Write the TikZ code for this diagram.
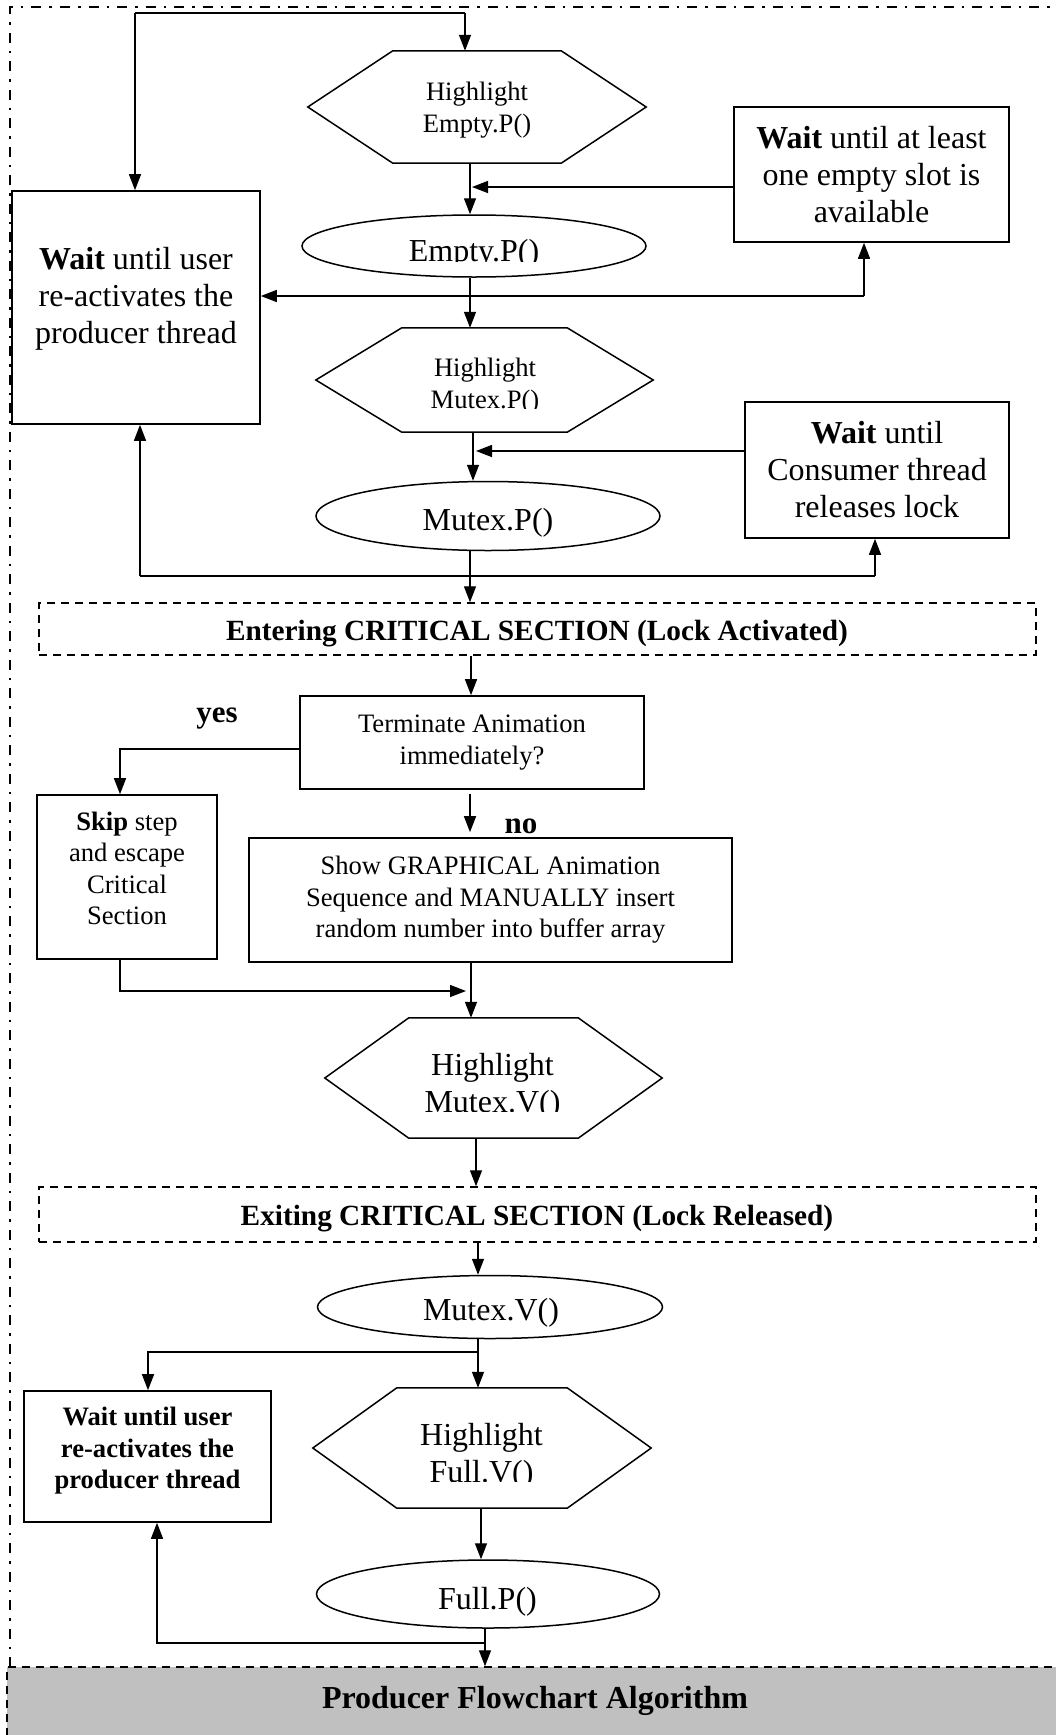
\documentclass[tikz,border=0pt]{standalone}
\usepackage{fontspec}
\setmainfont{Liberation Serif}
\usetikzlibrary{arrows.meta,shapes.geometric}

\definecolor{bannergray}{HTML}{C0C0C0}
\newcommand\txtsmall{\fontsize{26.6}{31.5}\selectfont}
\newcommand\txtmid{\fontsize{29.3}{34}\selectfont}
\newcommand\txtlarge{\fontsize{32}{37}\selectfont}
% flat-topped hexagon drawn around a rectangular node
\newcommand\hexpath[2]{\draw[shapeline] (#1.west) -- ([xshift=#2]#1.north west) -- ([xshift=-#2]#1.north east) -- (#1.east) -- ([xshift=-#2]#1.south east) -- ([xshift=#2]#1.south west) -- cycle;}

\begin{document}
\begin{tikzpicture}[x=1pt,y=-1pt,
  shapeline/.style={line width=1.5pt, line join=miter},
  boxnode/.style={draw, line width=1.6pt, inner sep=0pt, align=center},
  dashbox/.style={draw, line width=1.5pt, dash pattern=on 8pt off 6pt, inner sep=0pt, align=center},
  hexnode/.style={inner sep=0pt},
  ovalnode/.style={draw, ellipse, line width=1.5pt, inner sep=0pt},
  label/.style={inner sep=0pt, align=center},
  conn/.style={line width=1.4pt},
  arr/.style={line width=1.4pt, -{Triangle[length=16pt,width=12pt]}},
]
\useasboundingbox (0,0) rectangle (1056,1735);

% ---------- outer frame and banner ----------
\node[fill=bannergray, draw, line width=1.5pt, dash pattern=on 8pt off 6pt,
      minimum width=1053pt, minimum height=73pt, inner sep=0pt] (banner) at (533.5,1703.5) {};
\node[label, font=\txtlarge\bfseries] (title) at (535,1701) {Producer Flowchart Algorithm};
\draw[line width=2pt, dash pattern=on 10pt off 8pt on 2.5pt off 8pt] (10,1667) -- (10,7) -- (1060,7);

% ---------- shapes ----------
\node[hexnode, minimum width=338pt, minimum height=112pt] (h1) at (477,107) {};
\hexpath{h1}{85pt}
\node[label, font=\txtsmall] (h1t) at (477,110) {Highlight\\Empty.P()};

\node[ovalnode, minimum width=344pt, minimum height=62pt] (e1) at (474,246) {};
\begin{scope}
  \clip (300,200) rectangle (650,261);
  \node[label, font=\txtlarge] (e1t) at (474,254) {Empty.P()};
\end{scope}

\node[hexnode, minimum width=337pt, minimum height=104pt] (h2) at (484.5,380) {};
\hexpath{h2}{86pt}
\begin{scope}
  \clip (320,330) rectangle (650,408);
  \node[label, font=\txtsmall] (h2t) at (485,386) {Highlight\\Mutex.P()};
\end{scope}

\node[ovalnode, minimum width=344pt, minimum height=69pt] (e2) at (488,516) {};
\node[label, font=\txtlarge] (e2t) at (488,523) {Mutex.P()};

\node[boxnode, minimum width=248pt, minimum height=233pt] (lb1) at (136,307.5) {};
\node[label, font=\txtlarge] (lb1t) at (136,298.5) {\textbf{Wait} until user\\re-activates the\\producer thread};

\node[boxnode, font=\txtlarge, minimum width=275pt, minimum height=135pt] (rb1) at (871.5,174.5)
  {\textbf{Wait} until at least\\one empty slot is\\available};
\node[boxnode, font=\txtlarge, minimum width=264pt, minimum height=136pt] (rb2) at (877,470)
  {\textbf{Wait} until\\Consumer thread\\releases lock};

\node[dashbox, minimum width=997pt, minimum height=52pt] (d1) at (537.5,629) {};
\node[label, font=\txtmid\bfseries] (d1t) at (537,634) {Entering CRITICAL SECTION (Lock Activated)};

\node[boxnode, font=\txtsmall, minimum width=344pt, minimum height=93pt] (dec) at (472,742.5)
  {Terminate Animation\\immediately?};
\node[label, font=\fontsize{31}{35}\selectfont\bfseries] (yes) at (217,719) {yes};
\node[label, font=\fontsize{31}{35}\selectfont\bfseries] (no) at (521,826) {no};

\node[boxnode, minimum width=180pt, minimum height=164pt] (skip) at (127,877) {};
\node[label, font=\txtsmall] (skipt) at (127,868.5) {\textbf{Skip} step\\and escape\\Critical\\Section};

\node[boxnode, font=\txtsmall, minimum width=483pt, minimum height=124pt] (show) at (490.5,900)
  {Show GRAPHICAL Animation\\Sequence and MANUALLY insert\\random number into buffer array};

\node[hexnode, minimum width=337pt, minimum height=120pt] (h3) at (493.5,1078) {};
\hexpath{h3}{84pt}
\begin{scope}
  \clip (330,1020) rectangle (660,1111);
  \node[label, font=\txtlarge] (h3t) at (492.5,1086.5) {Highlight\\Mutex.V()};
\end{scope}

\node[dashbox, minimum width=997pt, minimum height=55pt] (d2) at (537.5,1214.5) {};
\node[label, font=\txtmid\bfseries] (d2t) at (537,1219) {Exiting CRITICAL SECTION (Lock Released)};

\node[ovalnode, minimum width=345pt, minimum height=63pt] (e3) at (490,1307) {};
\node[label, font=\txtlarge] (e3t) at (491,1313) {Mutex.V()};

\node[boxnode, minimum width=247pt, minimum height=131pt] (box3) at (147.5,1456.5) {};
\node[label, font=\txtsmall\bfseries] (box3t) at (147.5,1451) {Wait until user\\re-activates the\\producer thread};

\node[hexnode, minimum width=338pt, minimum height=120pt] (h4) at (482,1448) {};
\hexpath{h4}{84pt}
\begin{scope}
  \clip (320,1390) rectangle (650,1481);
  \node[label, font=\txtlarge] (h4t) at (481.5,1456.5) {Highlight\\Full.V()};
\end{scope}

\node[ovalnode, minimum width=343pt, minimum height=68pt] (e4) at (488,1594) {};
\node[label, font=\txtlarge] (e4t) at (487.5,1602) {Full.P()};

% ---------- connectors ----------
\coordinate (topL) at (135,13);
\coordinate (topR) at (465,13);
\draw[conn] (topL) -- (topR);
\draw[arr] (topR) -- (h1.north -| topR);
\draw[arr] (topL) -- (lb1.north -| topL);

\coordinate (j1) at (470,187);
\draw[arr] (h1.south -| j1) -- (e1.north -| j1);
\draw[arr] (rb1.west |- j1) -- ([xshift=2pt]j1);

\coordinate (j2) at (470,296);
\coordinate (j2r) at (864,296);
\draw[arr] (e1.south -| j2) -- (h2.north -| j2);
\draw[arr] (j2r) -- (lb1.east |- j2);
\draw[arr] (j2r) -- (rb1.south -| j2r);

\coordinate (j3) at (473,451);
\draw[arr] (h2.south -| j3) -- (e2.north -| j3);
\draw[arr] (rb2.west |- j3) -- ([xshift=3pt]j3);

\coordinate (j4) at (470,576);
\coordinate (j4l) at (140,576);
\coordinate (j4r) at (875,576);
\draw[arr] (e2.south -| j4) -- (d1.north -| j4);
\draw[conn] (j4l) -- (j4r);
\draw[arr] (j4l) -- (lb1.south -| j4l);
\draw[arr] (j4r) -- (rb2.south -| j4r);

\coordinate (c5) at (471,0);
\draw[arr] (d1.south -| c5) -- (dec.north -| c5);
\coordinate (j5) at (120,749);
\draw[arr] (dec.west |- j5) -- (j5) -- (skip.north -| j5);
\coordinate (c6) at (470,0);
\draw[arr] ([yshift=-4pt]dec.south -| c6) -- ([yshift=5pt]show.north -| c6);

\coordinate (c7) at (471,0);
\draw[arr] (show.south -| c7) -- (h3.north -| c7);
\coordinate (j7) at (120,991);
\coordinate (j7e) at (466,991);
\draw[arr] (skip.south -| j7) -- (j7) -- (j7e);

\coordinate (c8) at (476,0);
\draw[arr] (h3.south -| c8) -- (d2.north -| c8);
\coordinate (c9) at (478,0);
\draw[arr] (d2.south -| c9) -- (e3.north -| c9);
\draw[arr] (e3.south -| c9) -- (h4.north -| c9);
\coordinate (j9) at (478,1352);
\coordinate (j9l) at (148,1352);
\draw[arr] (j9) -- (j9l) -- (box3.north -| j9l);

\coordinate (c10) at (481,0);
\draw[arr] (h4.south -| c10) -- (e4.north -| c10);
\coordinate (c11) at (485,0);
\draw[arr] (e4.south -| c11) -- (banner.north -| c11);
\coordinate (j11) at (485,1643);
\coordinate (j11l) at (157,1643);
\draw[arr] (j11) -- (j11l) -- (box3.south -| j11l);
\end{tikzpicture}
\end{document}
